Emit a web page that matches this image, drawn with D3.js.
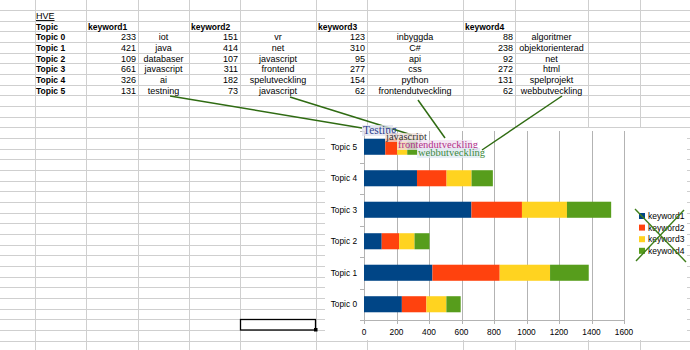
<!DOCTYPE html>
<html><head><meta charset="utf-8">
<script src="https://cdn.jsdelivr.net/npm/d3@7"></script>
<style>body{margin:0;background:#fff}svg{display:block}</style>
</head><body>
<svg id="c" width="690" height="350"></svg>
<script>
const topics = ["Topic 0","Topic 1","Topic 2","Topic 3","Topic 4","Topic 5"];
const seriesNames = ["keyword1","keyword2","keyword3","keyword4"];
const keyword1 = [233,421,109,661,326,131];
const keyword2 = [151,414,107,311,182,73];
const keyword3 = [123,310,95,277,154,62];
const keyword4 = [88,238,92,272,131,62];
const words1 = ["iot","java","databaser","javascript","ai","testning"];
const words2 = ["vr","net","javascript","frontend","spelutveckling","javascript"];
const words3 = ["inbyggda","C#","api","css","python","frontendutveckling"];
const words4 = ["algoritmer","objektorienterad","net","html","spelprojekt","webbutveckling"];
const xTicks = [0,200,400,600,800,1000,1200,1400,1600];
const colors = ["#004586","#ff420e","#ffd320","#579d1c"];
const calloutLabels = ["Testing","javascript","frontendutveckling","webbutveckling"];

const svg = d3.select("#c");
const F = "'Liberation Sans', Arial, sans-serif";

// ---- spreadsheet grid ----
const colEdges = [35,86,138,189,240,316,367,463,515,588,640];
const rowH = 10.67, row0 = -0.7;
const grid = svg.append("g").attr("stroke","#cfcfcf").attr("stroke-width",1);
d3.range(1,34).forEach(k=>{
  const y = Math.round(row0 + rowH*k)+0.5;
  grid.append("line").attr("x1",0).attr("x2",690).attr("y1",y).attr("y2",y);
});
colEdges.forEach(x=>{
  grid.append("line").attr("x1",x+0.5).attr("x2",x+0.5).attr("y1",0).attr("y2",350);
});

// ---- sheet text ----
const rowCenter = i => row0 + rowH*(i+0.5) + 0.5;
const base = i => rowCenter(i) + 3.2;
const t = svg.append("g").attr("font-family",F).attr("fill","#000");
t.append("text").attr("x",36).attr("y",base(1)).attr("font-size",9).attr("text-decoration","underline").text("HVE");
t.append("text").attr("x",36).attr("y",base(2)).attr("font-size",8.5).attr("font-weight","bold").text("Topic");
const valCols = [[86,138],[189,240],[316,367],[463,515]];
const wordCols = [[138,189],[240,316],[367,463],[515,588]];
const values = [keyword1,keyword2,keyword3,keyword4];
const words = [words1,words2,words3,words4];
seriesNames.forEach((s,j)=>{
  t.append("text").attr("x",valCols[j][0]+2).attr("y",base(2)).attr("font-size",8.5).attr("font-weight","bold").text(s);
});
topics.forEach((tp,i)=>{
  const r = i+3;
  t.append("text").attr("x",36).attr("y",base(r)).attr("font-size",8.5).attr("font-weight","bold").text(tp);
  values.forEach((arr,j)=>{
    t.append("text").attr("x",valCols[j][1]-2).attr("y",base(r)).attr("font-size",9).attr("text-anchor","end").text(arr[i]);
    t.append("text").attr("x",(wordCols[j][0]+wordCols[j][1])/2).attr("y",base(r)).attr("font-size",9).attr("text-anchor","middle").text(words[j][i]);
  });
});

// selected cell
svg.append("rect").attr("x",240.5).attr("y",319.5).attr("width",75).attr("height",10.5).attr("fill","none").attr("stroke","#000").attr("stroke-width",1.3);
svg.append("rect").attr("x",314).attr("y",328).attr("width",3.5).attr("height",3.5).attr("fill","#000");

// ---- chart ----
svg.append("rect").attr("x",325).attr("y",128).attr("width",362).attr("height",212).attr("fill","#fff");

const x = d3.scaleLinear().domain([0,1600]).range([364,624]);
const y = d3.scaleBand().domain(topics.slice().reverse()).range([131,320]).paddingInner(0.49).paddingOuter(0.245);

const gg = svg.append("g");
xTicks.forEach(v=>{
  gg.append("line").attr("x1",Math.round(x(v))+0.5).attr("x2",Math.round(x(v))+0.5)
    .attr("y1",131).attr("y2",324).attr("stroke","#b3b3b3");
});
gg.append("line").attr("x1",364.5).attr("x2",364.5).attr("y1",131).attr("y2",320).attr("stroke","#b3b3b3");
d3.range(0,7).forEach(k=>{
  const yy = Math.round(131 + k*y.step())+0.5;
  gg.append("line").attr("x1",360).attr("x2",364).attr("y1",yy).attr("y2",yy).attr("stroke","#b3b3b3");
});
gg.append("line").attr("x1",364).attr("x2",624).attr("y1",320.5).attr("y2",320.5).attr("stroke","#b3b3b3");

const table = topics.map((tp,i)=>({topic:tp,keyword1:keyword1[i],keyword2:keyword2[i],keyword3:keyword3[i],keyword4:keyword4[i]}));
const stack = d3.stack().keys(seriesNames)(table);
svg.append("g").selectAll("g").data(stack).join("g").attr("fill",(d,i)=>colors[i])
  .selectAll("rect").data(d=>d).join("rect")
  .attr("x",d=>x(d[0])).attr("width",d=>x(d[1])-x(d[0]))
  .attr("y",d=>y(d.data.topic)).attr("height",y.bandwidth());

const ax = svg.append("g").attr("font-family",F).attr("font-size",8.3).attr("fill","#000");
topics.forEach(tp=>{
  ax.append("text").attr("x",357).attr("y",y(tp)+y.bandwidth()/2+3).attr("text-anchor","end").text(tp);
});
xTicks.forEach(v=>{
  ax.append("text").attr("x",x(v)).attr("y",334.5).attr("text-anchor","middle").text(v);
});

// legend
const lg = svg.append("g").attr("font-family",F).attr("font-size",8.5);
seriesNames.forEach((s,i)=>{
  const yy = 216 + i*11.6;
  lg.append("rect").attr("x",639).attr("y",yy-3).attr("width",6).attr("height",6).attr("fill",colors[i]);
  lg.append("text").attr("x",648).attr("y",yy+3).attr("fill","#000").text(s);
});
lg.append("line").attr("x1",635).attr("y1",209).attr("x2",686).attr("y2",262).attr("stroke","#3f7f1a").attr("stroke-width",1.4);
lg.append("line").attr("x1",684).attr("y1",210).attr("x2",636).attr("y2",261).attr("stroke","#3f7f1a").attr("stroke-width",1.4);

// callouts
const lc = "#2f6b12";
const co = svg.append("g");
[[170,96,362,128],[290,97,412,135],[418,100,445,138],[562,96,482,150]].forEach(p=>{
  co.append("line").attr("x1",p[0]).attr("y1",p[1]).attr("x2",p[2]).attr("y2",p[3]).attr("stroke",lc).attr("stroke-width",1.5);
});
const lab = [
  {x:362,y:125,w:31,h:11,fs:11.5,bg:"#dfe2ef",fc:"#2f3f8f"},
  {x:385,y:133,w:37,h:9,fs:10.5,bg:"#eddcd8",fc:"#333333"},
  {x:397,y:140,w:75,h:10,fs:10.5,bg:"#f0dff0",fc:"#b0308a"},
  {x:417,y:148,w:63,h:10,fs:10.5,bg:"#dde8f2",fc:"#3d8a3d"}
];
lab.forEach((d,i)=>{
  co.append("rect").attr("x",d.x).attr("y",d.y).attr("width",d.w).attr("height",d.h).attr("fill",d.bg).attr("fill-opacity",0.75);
  co.append("text").attr("x",d.x+1).attr("y",d.y+d.h-2).attr("font-family","'Liberation Serif', serif").attr("font-size",d.fs).attr("fill",d.fc).text(calloutLabels[i]);
});
</script>
</body></html>
